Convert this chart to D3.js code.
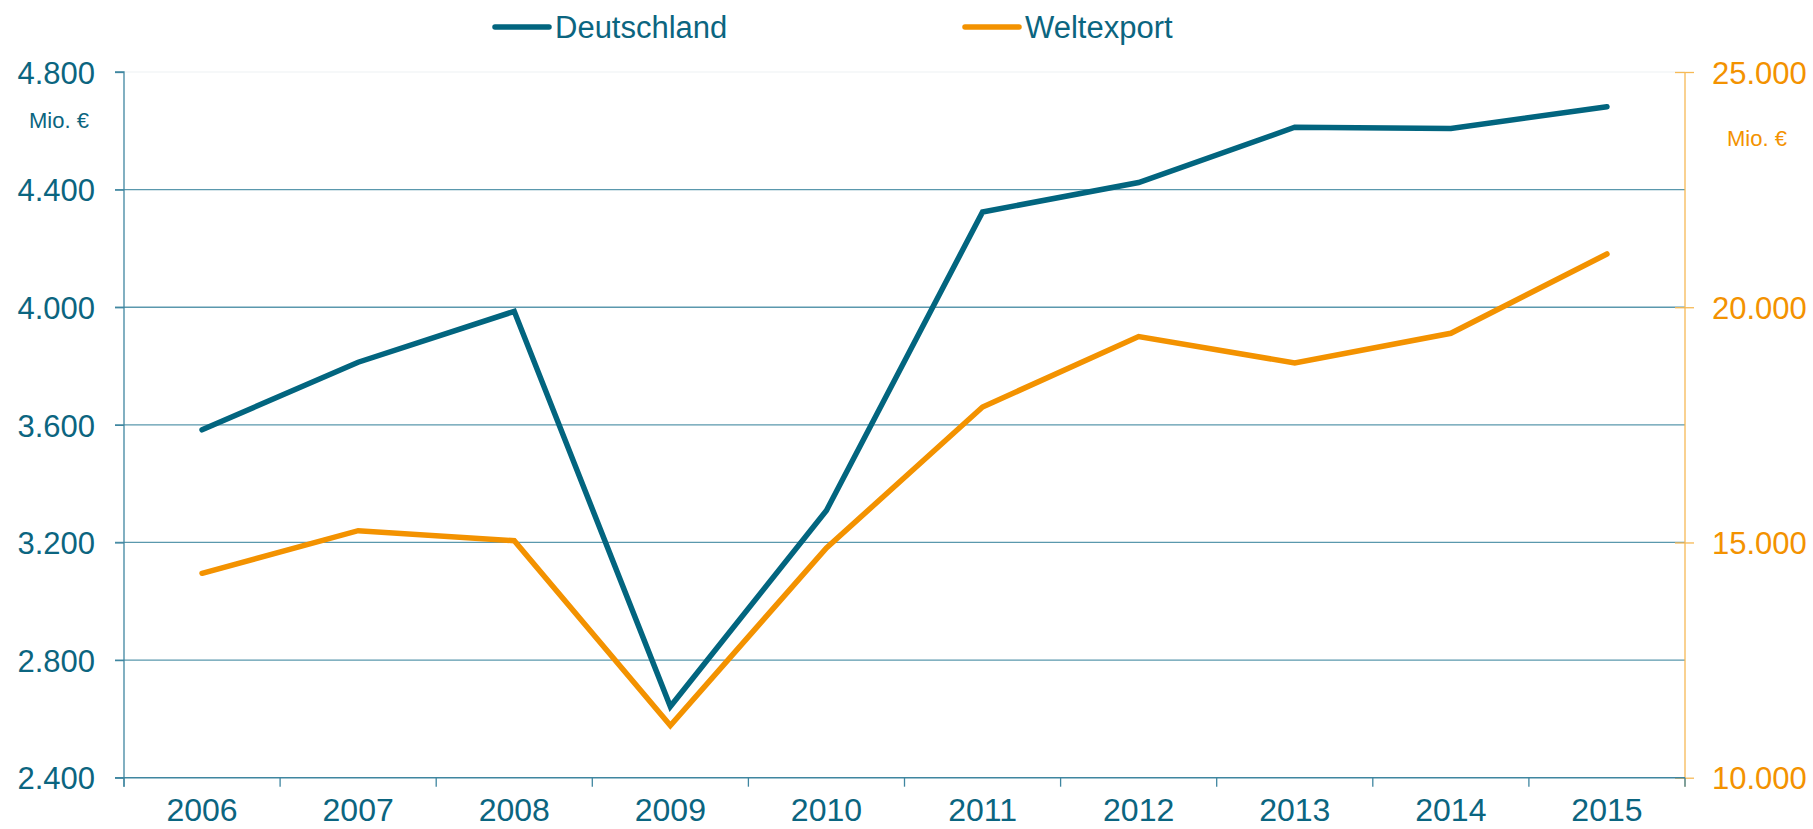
<!DOCTYPE html>
<html><head><meta charset="utf-8">
<script src="https://cdn.jsdelivr.net/npm/d3@7"></script>
<style>
html,body{margin:0;padding:0;background:#fff;}
text{font-family:"Liberation Sans",Arial,sans-serif;}
</style></head>
<body>
<svg id="chart" width="1813" height="829"></svg>
<script>
const years = ["2006","2007","2008","2009","2010","2011","2012","2013","2014","2015"];
const deutschland = [3583, 3813, 3986, 2642, 3309, 4324, 4424, 4612, 4608, 4682];
const weltexport = [14345, 15251, 15038, 11110, 14883, 17880, 19378, 18815, 19446, 21132];
const leftTicks = [2400, 2800, 3200, 3600, 4000, 4400, 4800];
const rightTicks = [10000, 15000, 20000, 25000];
const seriesNames = ["Deutschland", "Weltexport"];

const TEAL = "#02657f", ORANGE = "#f39200", TEXT = "#0b6580";
const svg = d3.select("#chart");
const L = 124, R = 1685, T = 72, B = 777.7;

const x = d3.scaleBand().domain(years).range([L, R]).padding(0);
const yL = d3.scaleLinear().domain([2400, 4800]).range([B, T]);
const yR = d3.scaleLinear().domain([10000, 25000]).range([B, T]);
const fmt = v => d3.format(",")(v).replace(/,/g, ".");

// gridlines
svg.append("g").selectAll("line").data(leftTicks.filter(d => d > 2400)).join("line")
  .attr("x1", L - 9).attr("x2", R)
  .attr("y1", d => yL(d)).attr("y2", d => yL(d))
  .attr("stroke", d => d === 4800 ? "#f3f6f7" : "#5a98ad").attr("stroke-width", 1.3);

// left axis
const gL = svg.append("g").attr("transform", `translate(${L},0)`)
  .call(d3.axisLeft(yL).tickValues(leftTicks).tickSize(9).tickPadding(20).tickFormat(fmt));
gL.select(".domain").attr("stroke", "#3f86a0").attr("stroke-width", 1.3).attr("d", `M-9,${T}H0V${B + 9}`);
gL.selectAll(".tick line").attr("stroke", "#3f86a0").attr("stroke-width", 1.3);
gL.selectAll(".tick text").attr("fill", TEXT).attr("font-size", 31).attr("dy", "0.36em");

// right axis
const gR = svg.append("g").attr("transform", `translate(${R},0)`)
  .call(d3.axisRight(yR).tickValues(rightTicks).tickSize(9).tickPadding(18).tickFormat(fmt));
gR.select(".domain").attr("stroke", "#f6b955").attr("stroke-width", 1.3).attr("d", `M0,${T}V${B + 9}`);
gR.selectAll(".tick line").attr("stroke", "#f6b955").attr("stroke-width", 1.3).attr("x1", -10);
gR.selectAll(".tick text").attr("fill", ORANGE).attr("font-size", 31).attr("dy", "0.36em");

// bottom axis
const gB = svg.append("g").attr("transform", `translate(0,${B})`)
  .call(d3.axisBottom(x).tickSize(0).tickPadding(21));
gB.select(".domain").attr("stroke", "#3f86a0").attr("stroke-width", 1.5).attr("d", `M${L - 9},0H${R}`);
gB.selectAll(".tick text").attr("fill", TEXT).attr("font-size", 32);
svg.append("g").selectAll("line").data(d3.range(years.length + 1)).join("line")
  .attr("x1", i => L + i * x.step()).attr("x2", i => L + i * x.step())
  .attr("y1", B).attr("y2", B + 9).attr("stroke", "#3f86a0").attr("stroke-width", 1.3);

// unit labels
svg.append("text").attr("x", 59).attr("y", 128).attr("text-anchor", "middle")
  .attr("font-size", 22).attr("fill", TEXT).text("Mio. €");
svg.append("text").attr("x", 1757).attr("y", 146).attr("text-anchor", "middle")
  .attr("font-size", 22).attr("fill", ORANGE).text("Mio. €");

// lines
const cx = d => x(d) + x.bandwidth() / 2;
const lineL = d3.line().x((d, i) => cx(years[i])).y(d => yL(d));
const lineR = d3.line().x((d, i) => cx(years[i])).y(d => yR(d));
svg.append("path").datum(weltexport).attr("d", lineR).attr("fill", "none")
  .attr("stroke", ORANGE).attr("stroke-width", 5.5).attr("stroke-linecap", "round").attr("stroke-linejoin", "miter");
svg.append("path").datum(deutschland).attr("d", lineL).attr("fill", "none")
  .attr("stroke", TEAL).attr("stroke-width", 5.5).attr("stroke-linecap", "round").attr("stroke-linejoin", "miter");

// legend
const legend = [{name: seriesNames[0], color: TEAL, x: 495}, {name: seriesNames[1], color: ORANGE, x: 965}];
const lg = svg.append("g").selectAll("g").data(legend).join("g");
lg.append("line").attr("x1", d => d.x).attr("x2", d => d.x + 54).attr("y1", 27).attr("y2", 27)
  .attr("stroke", d => d.color).attr("stroke-width", 5.5).attr("stroke-linecap", "round");
lg.append("text").attr("x", d => d.x + 60).attr("y", 38).attr("font-size", 31)
  .attr("fill", TEXT).text(d => d.name);
</script>
</body></html>
